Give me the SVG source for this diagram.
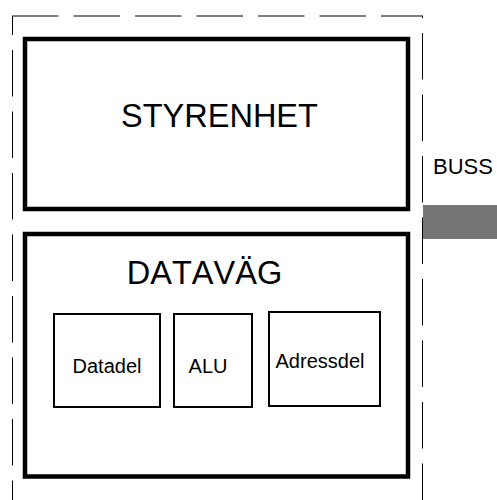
<svg xmlns="http://www.w3.org/2000/svg" width="497" height="500" viewBox="0 0 497 500">
  <style>
    .frame { fill: none; stroke: #000; stroke-width: 1; stroke-dasharray: 46.5 15; }
    .unit { fill: #fff; stroke: #000; stroke-width: 4.5; }
    .part { fill: #fff; stroke: #000; stroke-width: 2; }
    .bus { fill: #767676; stroke: none; }
    text { font-family: "Liberation Sans", Arial, sans-serif; fill: #000; font-kerning: none; }
    .big { font-size: 32.5px; text-anchor: middle; }
    .small { font-size: 20px; text-anchor: middle; }
    .label { font-size: 22px; }
  </style>

  <rect width="497" height="500" fill="#fff"/>

  <!-- dashed processor boundary, open at the bottom -->
  <g id="cpu-boundary">
    <path class="frame" d="M12 16 H423"/>
    <path class="frame" d="M12.5 16 V500" stroke-dashoffset="27.5"/>
    <path class="frame" d="M422.5 16 V500" stroke-dashoffset="44.5"/>
  </g>

  <g id="styrenhet">
    <rect class="unit" x="25" y="39" width="383" height="170"/>
    <text class="big" x="219.5" y="127">STYRENHET</text>
  </g>

  <g id="datavag">
    <rect class="unit" x="25" y="234" width="383" height="242.5"/>
    <text class="big" x="204.5" y="284">DATAVÄG</text>
  </g>

  <g id="datadel">
    <rect class="part" x="54" y="314" width="106" height="93"/>
    <text class="small" x="107" y="373">Datadel</text>
  </g>

  <g id="alu">
    <rect class="part" x="174" y="314" width="78" height="93"/>
    <text class="small" x="208" y="373">ALU</text>
  </g>

  <g id="adressdel">
    <rect class="part" x="269" y="312" width="111" height="94"/>
    <text class="small" x="320" y="368">Adressdel</text>
  </g>

  <g id="connectors">
    <rect class="bus" x="423" y="205" width="74" height="34"/>
  </g>

  <g id="buss">
    <text class="label" x="433" y="174">BUSS</text>
  </g>
</svg>
